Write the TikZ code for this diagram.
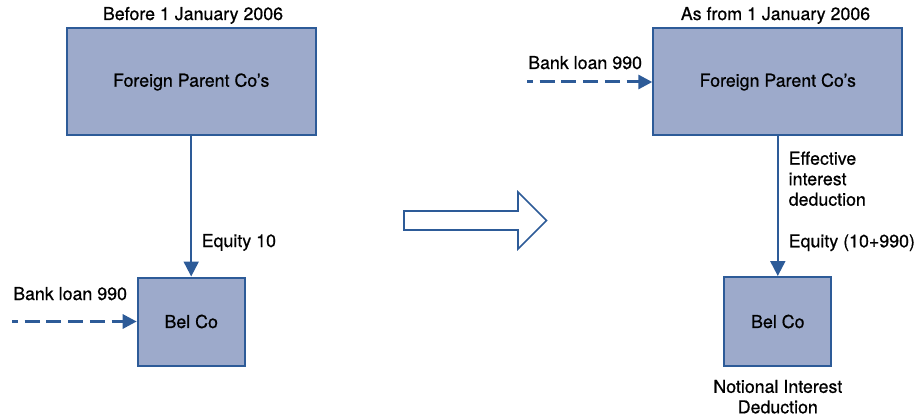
\documentclass[tikz,border=0pt]{standalone}
\usepackage{fontspec}
\setmainfont{TeX Gyre Heros}[UprightFeatures={FakeBold=0.6}]
\usetikzlibrary{arrows.meta}
\definecolor{boxfill}{RGB}{157,170,203}
\definecolor{navy}{RGB}{45,91,152}
\begin{document}
\begin{tikzpicture}[x=1pt,y=-1pt,
  font=\fontsize{17.8}{20.5}\selectfont,
  company/.style={draw=navy, fill=boxfill, line width=2pt, inner sep=0pt},
  flow/.style={draw=navy, line width=2pt, -{Triangle[length=15pt,width=15pt]}},
  loan/.style={flow, line width=3pt, dash pattern=on 15pt off 6.7pt, dash phase=9pt,
    -{Triangle[length=14pt,width=14pt]}},
  lbl/.style={inner sep=0pt, text=black}]
\useasboundingbox (0,0) rectangle (915,417);

% situation before 2006
\node[lbl, anchor=base] (t1) at (193,20) {Before 1 January 2006};
\node[company, minimum width=249pt, minimum height=107pt] (p1) at (191.2,82) {Foreign Parent Co’s};
\node[company, minimum width=107pt, minimum height=88pt] (b1) at (191.2,321.5) {Bel Co};
\draw[flow] (p1.south) -- (b1.north);
\node[lbl, anchor=base west] (e1) at (201.5,247) {Equity 10};
\node[lbl, anchor=base west] (l1) at (13,300) {Bank loan 990};
\coordinate (s1) at (12,321.5);
\draw[loan] (s1) -- (b1.west);

% transition arrow
\draw[navy, line width=1.6pt, line join=miter]
  (404,211) -- (518,211) -- (518,192) -- (546.5,220.5) -- (518,249) -- (518,230) -- (404,230) -- cycle;

% situation from 2006
\node[lbl, anchor=base] (t2) at (775.5,20) {As from 1 January 2006};
\node[company, minimum width=249pt, minimum height=107pt] (p2) at (777.8,82) {Foreign Parent Co’s};
\node[company, minimum width=107pt, minimum height=89pt] (b2) at (777.8,321.5) {Bel Co};
\draw[flow] (p2.south) -- (b2.north);
\node[lbl, anchor=base west] (l2) at (528,69) {Bank loan 990};
\coordinate (s2) at (527,82);
\draw[loan] (s2) -- (p2.west);
% the base anchor of a multi-line label sits on its last line
\node[lbl, anchor=base west, align=left] (d2) at (788.5,205.7) {Effective\\interest\\deduction};
\node[lbl, anchor=base west] (e2) at (788.5,247.3) {Equity (10+990)};
\node[lbl, anchor=base, align=center] (n2) at (777.8,413.3) {Notional Interest\\Deduction};
\end{tikzpicture}
\end{document}
